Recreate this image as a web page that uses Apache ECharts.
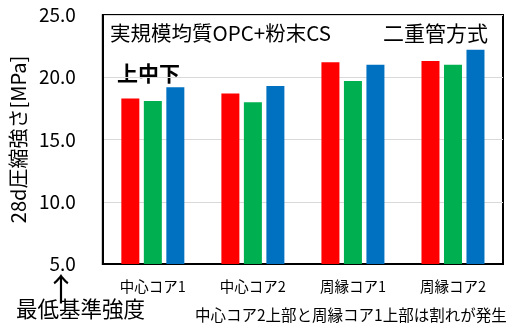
<!DOCTYPE html>
<html>
<head>
<meta charset="utf-8">
<script src="https://cdn.jsdelivr.net/npm/echarts@6/dist/echarts.min.js"></script>
<style>
  html, body { margin: 0; padding: 0; background: #fff; }
  #chart { width: 508px; height: 324px; }
</style>
</head>
<body>
<div id="chart"></div>
<script>
// Core sample positions along the x axis
const categories = ['中心コア1', '中心コア2', '周縁コア1', '周縁コア2'];
// 28-day compressive strength [MPa] at top / middle / bottom of each core
const upper = [18.3, 18.7, 21.2, 21.3];
const middle = [18.1, 18.0, 19.7, 21.0];
const lower = [19.2, 19.3, 21.0, 22.2];
const yTicks = [5, 10, 15, 20, 25];

const FONT = '"Noto Sans CJK JP", "Noto Sans", sans-serif';
const chart = echarts.init(document.getElementById('chart'), null, { renderer: 'canvas' });

const barStyle = (color) => ({
  type: 'bar',
  barWidth: 18,
  barGap: '25%',
  itemStyle: { color: color },
  animation: false
});

chart.setOption({
  animation: false,
  grid: {
    left: 100, right: 5, top: 15, bottom: 60,
    show: true, borderColor: '#000', borderWidth: 2, backgroundColor: '#fff'
  },
  xAxis: {
    type: 'category',
    data: categories,
    axisLine: { lineStyle: { color: '#000', width: 2 } },
    axisTick: { show: false },
    axisLabel: { color: '#000', fontFamily: FONT, fontSize: 14.5, margin: 15 }
  },
  yAxis: {
    type: 'value',
    min: yTicks[0],
    max: yTicks[yTicks.length - 1],
    interval: 5,
    name: '28d圧縮強さ[MPa]',
    nameLocation: 'middle',
    nameGap: 71,
    nameTextStyle: { color: '#000', fontFamily: FONT, fontSize: 20 },
    axisLine: { show: true, lineStyle: { color: '#000', width: 2 } },
    axisTick: { show: false },
    axisLabel: {
      color: '#000', fontFamily: FONT, fontSize: 19, margin: 27,
      formatter: (v) => v.toFixed(1)
    },
    splitLine: { lineStyle: { color: '#d9d9d9', width: 1 } }
  },
  series: [
    Object.assign(barStyle('#ff0000'), { name: '上', data: upper }),
    Object.assign(barStyle('#00b050'), { name: '中', data: middle }),
    Object.assign(barStyle('#0070c0'), { name: '下', data: lower })
  ],
  graphic: [
    { type: 'text', left: 110, top: 23,
      style: { text: '実規模均質OPC+粉末CS', font: '20.5px ' + FONT, fill: '#000' } },
    { type: 'text', left: 383, top: 23,
      style: { text: '二重管方式', font: '21px ' + FONT, fill: '#000' } },
    { type: 'text', left: 117, top: 63,
      style: { text: '上中下', font: 'bold 21px ' + FONT, fill: '#000' } },
    { type: 'text', x: 61, y: 289,
      style: { text: '↑', font: '32px ' + FONT, fill: '#000', align: 'center', verticalAlign: 'middle' } },
    { type: 'text', left: 16, top: 298,
      style: { text: '最低基準強度', font: '21.5px ' + FONT, fill: '#000' } },
    { type: 'text', left: 195, top: 307,
      style: { text: '中心コア2上部と周縁コア1上部は割れが発生', font: '15.5px ' + FONT, fill: '#000' } }
  ]
});
</script>
</body>
</html>
